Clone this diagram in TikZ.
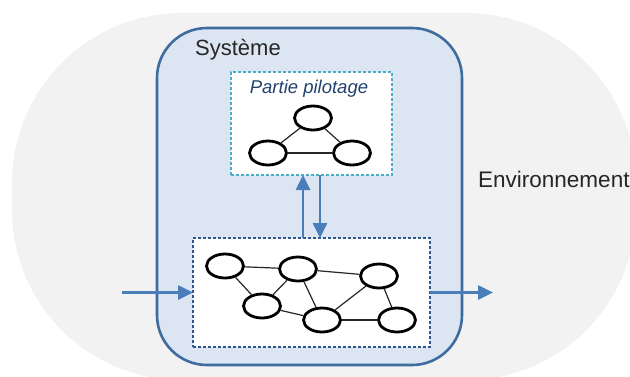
\documentclass[tikz,border=0pt]{standalone}
\usepackage{fontspec}
\setmainfont{Liberation Sans}
\usetikzlibrary{arrows.meta,shapes.geometric}
\definecolor{envgrey}{HTML}{F2F2F2}
\definecolor{sysfill}{HTML}{DCE6F2}
\definecolor{sysdraw}{HTML}{3F6C9F}
\definecolor{arrblue}{HTML}{4A7EBB}
\definecolor{tealdot}{HTML}{4BACC6}
\definecolor{navydot}{HTML}{2F5590}
\definecolor{pilotxt}{HTML}{22426E}
\tikzset{
  ell/.style={draw=black, line width=2.8pt, ellipse, minimum width=37pt, minimum height=24pt, inner sep=0pt, fill=white},
  lnk/.style={draw=black!85, line width=1.2pt},
  arr/.style={draw=arrblue, line width=2.6pt, -{Triangle[length=15pt,width=14pt]}},
  dotbox/.style={fill=white, line width=2.6pt, dash pattern=on 2.6pt off 2.4pt, inner sep=0pt, outer sep=0pt, anchor=north west},
}
\begin{document}
\begin{tikzpicture}[x=1pt,y=-1pt]
\useasboundingbox (0,0) rectangle (630,376);
% environment
\fill[envgrey, rounded corners=170pt] (12,13) rectangle (636,380);
\node[anchor=base west, font=\fontsize{22.5}{26}\selectfont, text=black!85, inner sep=0pt] (env) at (478,187) {Environnement};
% system
\node[draw=sysdraw, fill=sysfill, line width=2.6pt, rounded corners=50pt, minimum width=305pt, minimum height=337pt, anchor=north west, inner sep=0pt, outer sep=0pt] (sys) at (157,28) {};
\node[anchor=base west, font=\fontsize{22}{26}\selectfont, text=black!85, inner sep=0pt] (syslbl) at (195,55) {Système};
% pilot box
\node[dotbox, draw=tealdot, minimum width=161pt, minimum height=103pt] (pil) at (231,72) {};
\node[anchor=base, font=\fontsize{18.5}{22}\selectfont\itshape, text=pilotxt, inner sep=0pt] (pillbl) at (309,93) {Partie pilotage};
\node[ell] (t1) at (313,118) {};
\node[ell] (t2) at (268,153) {};
\node[ell] (t3) at (352,153) {};
\draw[lnk] (t1) -- (t2);
\draw[lnk] (t1) -- (t3);
\draw[lnk] (t2) -- (t3);
% operating box
\node[dotbox, draw=navydot, minimum width=237pt, minimum height=109pt] (bot) at (193,238) {};
\node[ell] (b1) at (225,266) {};
\node[ell] (b2) at (298,269) {};
\node[ell] (b3) at (379,276) {};
\node[ell] (b4) at (262,306) {};
\node[ell] (b5) at (322,320) {};
\node[ell] (b6) at (397,320) {};
\draw[lnk] (b1) -- (b2);
\draw[lnk] (b1) -- (b4);
\draw[lnk] (b2) -- (b4);
\draw[lnk] (b2) -- (b3);
\draw[lnk] (b2) -- (b5);
\draw[lnk] (b4) -- (b5);
\draw[lnk] (b3) -- (b5);
\draw[lnk] (b3) -- (b6);
\draw[lnk] (b5) -- (b6);
% arrows
\draw[arr] ([xshift=-8.5pt]bot.north) -- ([xshift=-8.5pt]pil.south);
\draw[arr] ([xshift=8.5pt]pil.south) -- ([xshift=8.5pt]bot.north);
\coordinate (inp) at (122,292.5);
\coordinate (outp) at (493,292.5);
\draw[arr] (bot.west -| inp) -- (bot.west);
\draw[arr] (bot.east) -- (bot.east -| outp);
\end{tikzpicture}
\end{document}
